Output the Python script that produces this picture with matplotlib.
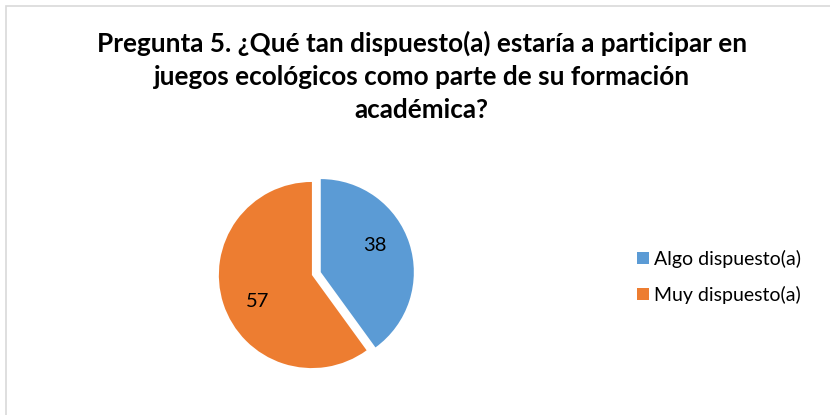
import numpy as np
import matplotlib
matplotlib.use("Agg")
import matplotlib.pyplot as plt
from matplotlib.patches import Rectangle, Patch

# data
labels = ["Algo dispuesto(a)", "Muy dispuesto(a)"]
values = [38, 57]
colors = ["#5b9bd5", "#ed7d31"]
title = ("Pregunta 5. ¿Qué tan dispuesto(a) estaría a participar en\n"
         "juegos ecológicos como parte de su formación\n"
         "académica?")

plt.rcParams["font.family"] = ["Lato", "DejaVu Sans"]

fig = plt.figure(figsize=(8.3, 4.15), dpi=100)
fig.patches.append(Rectangle((6 / 830, -0.1), 1.1, 1.1 - 6 / 415, transform=fig.transFigure,
                             fill=False, edgecolor="#d9d9d9", lw=1.2))

fig.text(0.508, 0.925, title, ha="center", va="top", fontsize=18.8, fontweight="bold",
         linespacing=1.45, color="#000000")

ax = fig.add_axes([0.230, 0.0458, 0.2916, 0.583])
wedges, texts = ax.pie(values, colors=colors, startangle=90, counterclock=False,
                       explode=[0.1, 0], labels=[str(v) for v in values],
                       labeldistance=0.65, textprops={"fontsize": 14.5})
# Excel-like label placement: nudged a bit counter-clockwise from the wedge middle
for w, t in zip(wedges, texts):
    ang = np.deg2rad((w.theta1 + w.theta2) / 2 + 8)
    cx, cy = w.center
    t.set_position((cx + 0.65 * np.cos(ang), cy + 0.65 * np.sin(ang)))
    t.set_ha("center")
    t.set_va("center")
ax.set_xlim(-1.3, 1.3)
ax.set_ylim(-1.3, 1.3)
ax.set_aspect("equal")
ax.axis("off")

handles = [Patch(facecolor=c, edgecolor="none") for c in colors]
fig.legend(handles, labels, loc="center left", bbox_to_anchor=(0.768, 0.333), frameon=False,
           fontsize=14, handlelength=0.6, handleheight=0.6, handletextpad=0.25,
           labelspacing=0.95, borderpad=0, borderaxespad=0)

fig.savefig("out.png", dpi=100)
